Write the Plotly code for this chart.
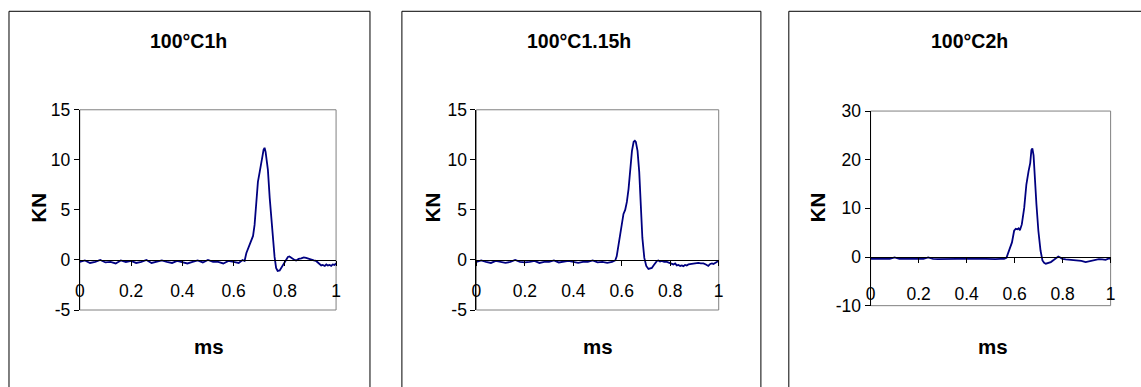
import plotly.graph_objects as go

W, H = 1141, 387

# ---------------- data ----------------
titles = ["100°C1h", "100°C1.15h", "100°C2h"]
x_title = "ms"
y_title = "KN"

x_tickvals = [0, 0.2, 0.4, 0.6, 0.8, 1]
x_ticktext = ["0", "0.2", "0.4", "0.6", "0.8", "1"]

y1_tickvals = [-5, 0, 5, 10, 15]
y1_ticktext = ["-5", "0", "5", "10", "15"]
y2_tickvals = [-5, 0, 5, 10, 15]
y2_ticktext = ["-5", "0", "5", "10", "15"]
y3_tickvals = [-10, 0, 10, 20, 30]
y3_ticktext = ["-10", "0", "10", "20", "30"]

# Panel 1: 100C 1h
t1 = [0, 0.02, 0.04, 0.06, 0.08, 0.10, 0.12, 0.14, 0.16, 0.18, 0.20, 0.22, 0.24, 0.26, 0.28,
      0.30, 0.32, 0.34, 0.36, 0.38, 0.40, 0.42, 0.44, 0.46, 0.48, 0.50, 0.52, 0.54, 0.56, 0.58,
      0.60, 0.62, 0.635, 0.643,
      0.650, 0.656, 0.663, 0.670, 0.676, 0.682, 0.689, 0.695, 0.702, 0.708, 0.713, 0.717, 0.721,
      0.725, 0.729, 0.734, 0.741, 0.747, 0.754, 0.760, 0.766, 0.772, 0.780, 0.788, 0.796, 0.805,
      0.812, 0.818, 0.825, 0.831, 0.838, 0.844, 0.854, 0.864, 0.874, 0.883, 0.893, 0.903, 0.913,
      0.922, 0.930, 0.935, 0.942, 0.948, 0.956, 0.962, 0.968, 0.975, 0.981, 0.987, 0.994, 1.0]
f1 = [-0.2, -0.05, -0.3, -0.2, 0.0, -0.25, -0.2, -0.35, -0.05, -0.2, -0.1, -0.3, -0.2, 0.0, -0.3,
      -0.2, -0.05, -0.2, -0.3, -0.1, -0.2, -0.35, -0.2, -0.05, -0.25, 0.0, -0.2, -0.2, -0.35, -0.1,
      -0.2, -0.3, 0.0, -0.1,
      0.7, 1.1, 1.6, 2.0, 2.4, 3.5, 5.8, 7.8, 8.8, 9.9, 10.4, 11.0, 11.2,
      10.8, 10.2, 9.0, 6.2, 4.2, 2.3, 0.3, -0.8, -1.1, -1.05, -0.7, -0.3, 0.1,
      0.3, 0.35, 0.2, 0.1, 0.0, -0.05, 0.1, 0.15, 0.25, 0.2, 0.1, 0.05, -0.05,
      -0.1, -0.3, -0.4, -0.55, -0.5, -0.6, -0.45, -0.55, -0.5, -0.6, -0.45, -0.5, -0.35]

# Panel 2: 100C 1.15h
t2 = [0, 0.02, 0.04, 0.06, 0.08, 0.10, 0.12, 0.14, 0.16, 0.18, 0.20, 0.22, 0.24, 0.26, 0.28,
      0.30, 0.32, 0.34, 0.36, 0.38, 0.40, 0.42, 0.44, 0.46, 0.48, 0.50, 0.52, 0.54, 0.56, 0.573,
      0.579, 0.586, 0.594, 0.601, 0.607, 0.614, 0.621, 0.628, 0.636, 0.642, 0.649, 0.654, 0.658,
      0.665, 0.672, 0.679, 0.685, 0.693, 0.701, 0.710, 0.717, 0.724, 0.731, 0.738, 0.745, 0.751,
      0.758, 0.765, 0.775, 0.786, 0.797, 0.806, 0.813, 0.820, 0.827, 0.834, 0.841, 0.848, 0.854,
      0.861, 0.868, 0.875, 0.885, 0.895, 0.905, 0.916, 0.926, 0.937, 0.947, 0.957, 0.965, 0.972,
      0.978, 0.985, 0.992, 1.0]
f2 = [-0.2, -0.05, -0.2, -0.3, -0.1, -0.2, -0.3, -0.2, 0.0, -0.2, -0.25, -0.2, -0.1, -0.3, -0.2,
      -0.2, -0.05, -0.25, -0.2, -0.1, -0.2, -0.3, -0.2, -0.2, -0.05, -0.25, -0.2, -0.3, -0.2, -0.05,
      0.36, 1.55, 2.9, 3.9, 4.6, 5.0, 5.8, 7.1, 9.4, 10.9, 11.8, 11.9, 11.8,
      10.9, 8.8, 5.5, 2.2, 0.2, -0.6, -0.9, -0.85, -0.8, -0.55, -0.36, -0.1, -0.05,
      -0.15, -0.1, -0.2, -0.2, -0.3, -0.4, -0.45, -0.35, -0.55, -0.5, -0.6, -0.55, -0.62,
      -0.5, -0.55, -0.45, -0.4, -0.35, -0.3, -0.3, -0.35, -0.35, -0.45, -0.6, -0.4, -0.35,
      -0.4, -0.25, -0.2, -0.05]

# Panel 3: 100C 2h
t3 = [0, 0.02, 0.04, 0.06, 0.08, 0.10, 0.12, 0.14, 0.16, 0.18, 0.20, 0.22, 0.24, 0.26, 0.28,
      0.30, 0.32, 0.34, 0.36, 0.38, 0.40, 0.42, 0.44, 0.46, 0.48, 0.50, 0.52, 0.54, 0.556, 0.566,
      0.577, 0.589, 0.598, 0.605, 0.612, 0.617, 0.622, 0.630, 0.640, 0.649, 0.658, 0.665, 0.670,
      0.674, 0.679, 0.684, 0.691, 0.699, 0.708, 0.716, 0.723, 0.730, 0.740, 0.751, 0.764, 0.773,
      0.782, 0.790, 0.799, 0.813, 0.827, 0.844, 0.861, 0.878, 0.896, 0.910, 0.924, 0.937, 0.951,
      0.965, 0.979, 0.993, 1.0]
f3 = [-0.4, -0.35, -0.45, -0.4, -0.4, -0.1, -0.4, -0.45, -0.4, -0.35, -0.4, -0.4, -0.1, -0.4, -0.45,
      -0.4, -0.4, -0.35, -0.4, -0.4, -0.45, -0.4, -0.35, -0.4, -0.4, -0.4, -0.45, -0.4, -0.4, -0.16,
      1.33, 3.0, 5.4, 5.8, 5.7, 5.9, 5.5, 6.7, 10.1, 14.9, 17.6, 19.3, 22.0,
      22.3, 20.9, 15.5, 10.8, 5.4, 1.33, -0.7, -1.2, -1.38, -1.2, -1.04, -0.57, -0.2,
      0.11, -0.1, -0.37, -0.5, -0.57, -0.6, -0.7, -0.8, -1.04, -0.9, -0.7, -0.5, -0.43,
      -0.5, -0.57, -0.3, -0.4]

# ---------------- layout ----------------
# pixel positions measured on the reference, converted to paper fractions
# (with a small correction for how the page is photographed)
def xp(px):
    return (px - 3) / 0.994 / W

def yp(py):
    return 1 - (py - 8) / 0.96 / H

panels = [
    dict(t=t1, f=f1, yr=[-5, 15], tv=y1_tickvals, tt=y1_ticktext,
         plot=(78, 335, 109, 311.7), box=(7, 369), title_x=187, ytitle_x=37, xtitle_x=208,
         standoff=10),
    dict(t=t2, f=f2, yr=[-5, 15], tv=y2_tickvals, tt=y2_ticktext,
         plot=(475.7, 718.7, 109, 311.7), box=(401, 761), title_x=579, ytitle_x=432, xtitle_x=598,
         standoff=10),
    dict(t=t3, f=f3, yr=[-10, 30], tv=y3_tickvals, tt=y3_ticktext,
         plot=(871, 1111.7, 110.3, 307.3), box=(789, 1170), title_x=970, ytitle_x=818, xtitle_x=994,
         standoff=16),
]

FONT = "Liberation Sans, Arial, sans-serif"
LINE_COLOR = "#000080"

fig = go.Figure()
shapes = []
annotations = []
layout_axes = {}

for i, p in enumerate(panels, start=1):
    xa = "x" if i == 1 else f"x{i}"
    ya = "y" if i == 1 else f"y{i}"
    fig.add_trace(go.Scatter(x=p["t"], y=p["f"], mode="lines",
                             line=dict(color=LINE_COLOR, width=1.8),
                             xaxis=xa, yaxis=ya, showlegend=False, hoverinfo="skip"))
    x0, x1, top, bot = p["plot"]
    xdom = [xp(x0), xp(x1)]
    ydom = [yp(bot), yp(top)]
    ymin, ymax = p["yr"]
    zero_pos = ydom[0] + (0 - ymin) / (ymax - ymin) * (ydom[1] - ydom[0])

    layout_axes[f"xaxis{'' if i == 1 else i}"] = dict(
        domain=xdom, range=[0, 1], anchor="free", position=zero_pos,
        showline=True, linecolor="black", linewidth=1,
        ticks="outside", ticklen=5, tickcolor="black", tickwidth=1,
        tickvals=x_tickvals, ticktext=x_ticktext,
        tickfont=dict(family=FONT, size=17.5, color="black"),
        ticklabelstandoff=p["standoff"],
        showgrid=False, zeroline=False, fixedrange=True,
    )
    layout_axes[f"yaxis{'' if i == 1 else i}"] = dict(
        domain=ydom, range=p["yr"], anchor=xa,
        showline=True, linecolor="black", linewidth=1,
        ticks="outside", ticklen=5, tickcolor="black", tickwidth=1,
        tickvals=p["tv"], ticktext=p["tt"],
        tickfont=dict(family=FONT, size=17.5, color="black"),
        showgrid=False, zeroline=False, fixedrange=True,
    )
    # gray plot-area frame
    shapes.append(dict(type="rect", xref=f"{xa} domain", yref=f"{ya} domain",
                       x0=0, x1=1, y0=0, y1=1, layer="below",
                       line=dict(color="#808080", width=1)))
    # panel outer border
    bx0, bx1 = p["box"]
    shapes.append(dict(type="rect", xref="paper", yref="paper",
                       x0=xp(bx0), x1=xp(bx1), y0=-0.1, y1=yp(9.3),
                       line=dict(color="black", width=1), layer="below"))
    # titles
    annotations.append(dict(text=f"<b>{titles[i-1]}</b>", xref="paper", yref="paper",
                            x=xp(p["title_x"]), y=yp(39), xanchor="center", yanchor="middle",
                            showarrow=False, font=dict(family=FONT, size=19.5, color="black")))
    annotations.append(dict(text=f"<b>{y_title}</b>", xref="paper", yref="paper",
                            x=xp(p["ytitle_x"]), y=yp(208), xanchor="center", yanchor="middle",
                            textangle=-90, showarrow=False,
                            font=dict(family=FONT, size=20.5, color="black")))
    annotations.append(dict(text=f"<b>{x_title}</b>", xref="paper", yref="paper",
                            x=xp(p["xtitle_x"]), y=yp(349), xanchor="center", yanchor="middle",
                            showarrow=False, font=dict(family=FONT, size=20.5, color="black")))

fig.update_layout(
    width=W, height=H,
    margin=dict(l=0, r=0, t=0, b=0),
    paper_bgcolor="white", plot_bgcolor="white",
    shapes=shapes, annotations=annotations,
    showlegend=False,
    **layout_axes,
)

fig.write_html("out.html", config={"displayModeBar": False})
